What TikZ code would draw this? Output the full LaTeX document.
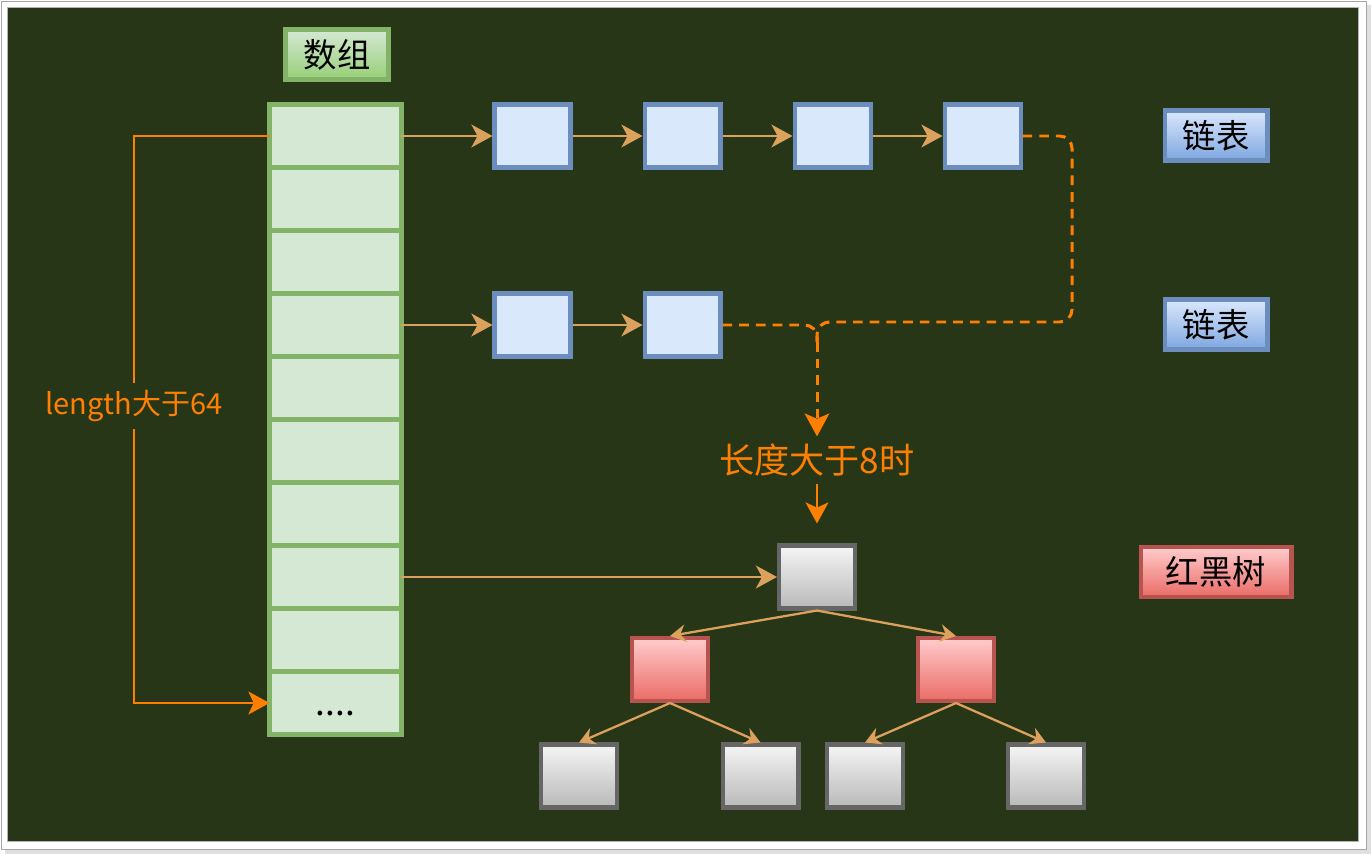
\documentclass[tikz,border=0pt]{standalone}
\usepackage{fontspec}
\setmainfont{Noto Sans CJK SC}
\usetikzlibrary{positioning, arrows.meta}

\definecolor{bg}{HTML}{283618}
\definecolor{pipec}{HTML}{DDA15E}
\definecolor{hot}{HTML}{FF8000}
\definecolor{greenline}{HTML}{82B366}
\definecolor{greenfill}{HTML}{D5E8D4}
\definecolor{blueline}{HTML}{6C8EBF}
\definecolor{bluefill}{HTML}{DAE8FC}
\definecolor{redline}{HTML}{B85450}
\definecolor{grayline}{HTML}{666666}

\begin{document}
\begin{tikzpicture}[x=0.02cm, y=-0.02cm, node distance=1.4cm,
	cell/.style={draw=greenline, fill=greenfill, line width=2.3pt, minimum width=2.64cm, minimum height=1.26cm, inner sep=0pt, outer sep=0pt, font=\fontsize{20}{22}\selectfont},
	link/.style={draw=blueline, fill=bluefill, line width=2.3pt, minimum width=1.52cm, minimum height=1.26cm, inner sep=0pt},
	blk/.style={draw=grayline, top color=gray!8, bottom color=gray!55, line width=2.3pt, minimum width=1.52cm, minimum height=1.26cm, inner sep=0pt},
	rednode/.style={draw=redline, top color=red!20!white, bottom color={rgb,255:red,234;green,107;blue,102}, line width=2.3pt, minimum width=1.52cm, minimum height=1.26cm, inner sep=0pt},
	key/.style={line width=2.3pt, minimum width=2.06cm, minimum height=1.0cm, inner sep=0pt, font=\fontsize{19}{21}\selectfont},
	greenkey/.style={key, draw=greenline, top color=greenfill, bottom color={rgb,255:red,151;green,208;blue,119}},
	bluekey/.style={key, draw=blueline, top color=bluefill, bottom color={rgb,255:red,126;green,166;blue,224}},
	redkey/.style={key, draw=redline, top color=red!20!white, bottom color={rgb,255:red,234;green,107;blue,102}, minimum width=3.02cm},
	pipe/.style={draw=pipec, line width=1.4pt, -{Stealth[length=12pt, width=13pt, inset=3.5pt]}},
	branch/.style={draw=pipec, line width=1.3pt, -{Stealth[length=9pt, width=10pt, inset=3pt]}},
	hotline/.style={draw=hot, line width=1.4pt},
	dashline/.style={draw=hot, line width=1.7pt, dash pattern=on 5.5pt off 4pt}
	]
	\useasboundingbox (0,0) rectangle (1371,854);
	\fill[gray!25] (5,5) rectangle (1371,854);
	\filldraw[fill=white, draw=gray!70] (1,1) rectangle (1366,849);
	\filldraw[fill=bg, draw=gray!60] (7,7) rectangle (1358,841);
	
	\foreach \i in {1,...,9}
		\node[cell] (a\i) at (335.5, {104.5+63*(\i-0.5)}) {};
	\node[cell, below=0pt of a9] (a10) {\smash{\raisebox{-7pt}{....}}};
	
	\node[greenkey] (arrkey) at (337,54.5) {数组};
	\node[bluekey] (listkey1) at (1216,135.5) {链表};
	\node[bluekey] (listkey2) at (1216,324.5) {链表};
	\node[redkey] (treekey) at (1216,572) {红黑树};
	
	\node[link] (l1) at (532.5,136) {};
	\node[link, right=of l1] (l2) {};
	\node[link, right=of l2] (l3) {};
	\node[link, right=of l3] (l4) {};
	\node[link] (m1) at (532.5,325) {};
	\node[link, right=of m1] (m2) {};
	
	\node[blk] (root) at (817,577) {};
	\node[rednode] (rl) at (670,669.5) {};
	\node[rednode] (rr) at (956,669.5) {};
	\node[blk] (b1) at (579,776) {};
	\node[blk] (b2) at (760.5,776) {};
	\node[blk] (b3) at (865,776) {};
	\node[blk] (b4) at (1046,776) {};
	
	\node[fill=bg, text=hot, inner sep=4pt, font=\fontsize{16.5}{18}\selectfont] (lab) at (134,406) {length大于64};
	\node[text=hot, inner sep=4pt, font=\fontsize{20}{22}\selectfont] (cond) at (817,460) {长度大于8时};
	\coordinate (merge) at (817,342);
	
	\foreach \a/\b in {a1/l1, l1/l2, l2/l3, l3/l4, a4/m1, m1/m2, a8/root}
		\draw[pipe] (\a) -- (\b);
	\foreach \a/\b in {root/rl, root/rr, rl/b1, rl/b2, rr/b3, rr/b4}
		\draw[branch] (\a.south) -- (\b.north);
	
	\draw[hotline] (a1.west) -| (lab);
	\draw[hotline, -{Stealth[length=12pt, width=13pt, inset=3pt]}] (lab) |- (a10.west);
	
	\draw[dashline, rounded corners=7pt] (l4.east) -- (1072,136) -- (1072,322) -- (817,322) -- (merge);
	\draw[dashline, rounded corners=7pt] (m2.east) -- (817,325) -- (merge);
	\draw[dashline, -{Stealth[length=13pt, width=14pt, inset=3pt]}] (merge) -- (cond);
	\draw[hotline, shorten >=0.4cm, -{Stealth[length=12pt, width=13pt, inset=3pt]}] (cond) -- (root);
\end{tikzpicture}
\end{document}
